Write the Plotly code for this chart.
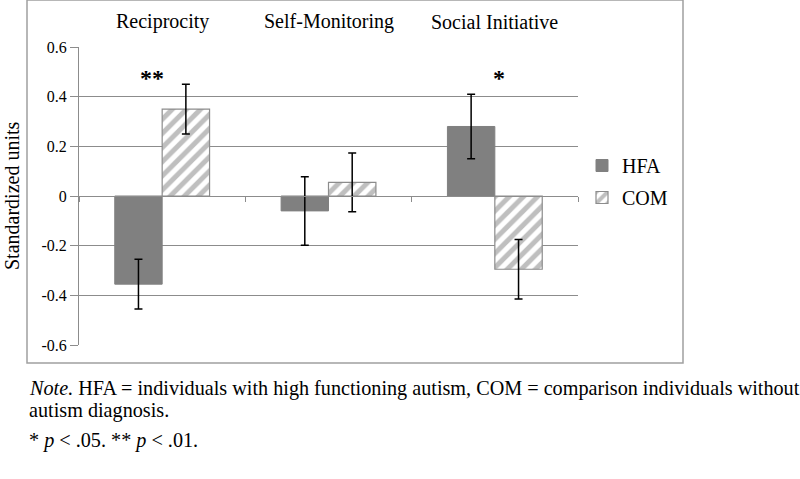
import plotly.graph_objects as go

# Data
categories = ["Reciprocity", "Self-Monitoring", "Social Initiative"]
hfa_means = [-0.355, -0.06, 0.28]
hfa_err = [0.10, 0.138, 0.13]
com_means = [0.35, 0.055, -0.295]
com_err = [0.10, 0.118, 0.12]
significance = ["**", "", "*"]
y_ticks = [-0.6, -0.4, -0.2, 0, 0.2, 0.4, 0.6]

serif = "'Liberation Serif', 'Times New Roman', serif"
grid = "#8c8c8c"

# plot area in pixels (used to place things outside the axes)
L, R, T, B = 79, 578, 47, 345
def px(x):
    return (x - L) / (R - L)
def py(y):
    return (B - y) / (B - T)

fig = go.Figure()

fig.add_trace(go.Bar(
    x=categories, y=hfa_means, name="HFA", legendgroup="hfa",
    marker=dict(color="#808080", line=dict(color="#808080", width=1)),
    error_y=dict(type="data", array=hfa_err, color="black", thickness=1.5, width=4),
))
fig.add_trace(go.Bar(
    x=categories, y=com_means, name="COM", legendgroup="com",
    marker=dict(
        color="white",
        line=dict(color="#8c8c8c", width=1.2),
        pattern=dict(shape="/", fgcolor="#808080", bgcolor="white", size=10, solidity=0.5),
    ),
    error_y=dict(type="data", array=com_err, color="black", thickness=1.5, width=4),
))

# category labels along the top
for c in categories:
    fig.add_annotation(x=c, y=1, xref="x", yref="paper", yanchor="bottom", yshift=12,
                       text=c, showarrow=False, font=dict(family=serif, size=20, color="black"))

# significance stars
star_shift = [-10, 0, 4]
for c, s, dx in zip(categories, significance, star_shift):
    if s:
        fig.add_annotation(x=c, y=0.475, xref="x", yref="y", xshift=dx, text="<b>%s</b>" % s,
                           showarrow=False, font=dict(family=serif, size=24, color="black"))

# y axis title
fig.add_annotation(x=px(12), y=0.5, xref="paper", yref="paper", text="Standardized units",
                   xanchor="center", yanchor="middle",
                   textangle=-90, showarrow=False, font=dict(family=serif, size=20, color="black"))

# note text below the chart
note_lines = [
    ("<i>Note.</i> HFA = individuals with high functioning autism, COM = comparison individuals without", 388),
    ("autism diagnosis.", 410),
    ("* <i>p</i> < .05. ** <i>p</i> < .01.", 440),
]
for txt, yy in note_lines:
    fig.add_annotation(x=px(27), y=py(yy), xref="paper", yref="paper",
                       xanchor="left", yanchor="middle", text=txt, showarrow=False,
                       font=dict(family=serif, size=20.2, color="black"))

# outer chart frame
fig.add_shape(type="rect", xref="paper", yref="paper",
              x0=px(27), x1=px(683), y0=py(363), y1=py(0),
              line=dict(color="#a0a0a0", width=1.5), layer="below")

fig.update_layout(
    width=800, height=479,
    margin=dict(l=L, r=800 - R, t=T, b=479 - B, autoexpand=False),
    paper_bgcolor="white", plot_bgcolor="white",
    barmode="group", bargap=0.43, bargroupgap=0,
    font=dict(family=serif, color="black"),
    legend=dict(x=px(582), y=py(146), xanchor="left", yanchor="top",
                font=dict(family=serif, size=20, color="black"),
                traceorder="grouped", tracegroupgap=3, itemwidth=30),
    xaxis=dict(showticklabels=False, showgrid=False, anchor="free", position=0.5,
               showline=True, linecolor=grid, linewidth=1, automargin=False,
               ticks="outside", tickson="boundaries", ticklen=5, tickcolor=grid),
    yaxis=dict(range=[-0.6, 0.6], tickvals=y_ticks, ticktext=["%g" % v for v in y_ticks],
               showgrid=True, gridcolor=grid, gridwidth=1, zeroline=False,
               showline=True, linecolor=grid, linewidth=1, automargin=False,
               ticks="outside", ticklen=8, tickcolor=grid,
               tickfont=dict(family=serif, size=16, color="black")),
)

fig.write_html("out.html", config={"displayModeBar": False},
               post_script="document.body.style.margin='0';")
